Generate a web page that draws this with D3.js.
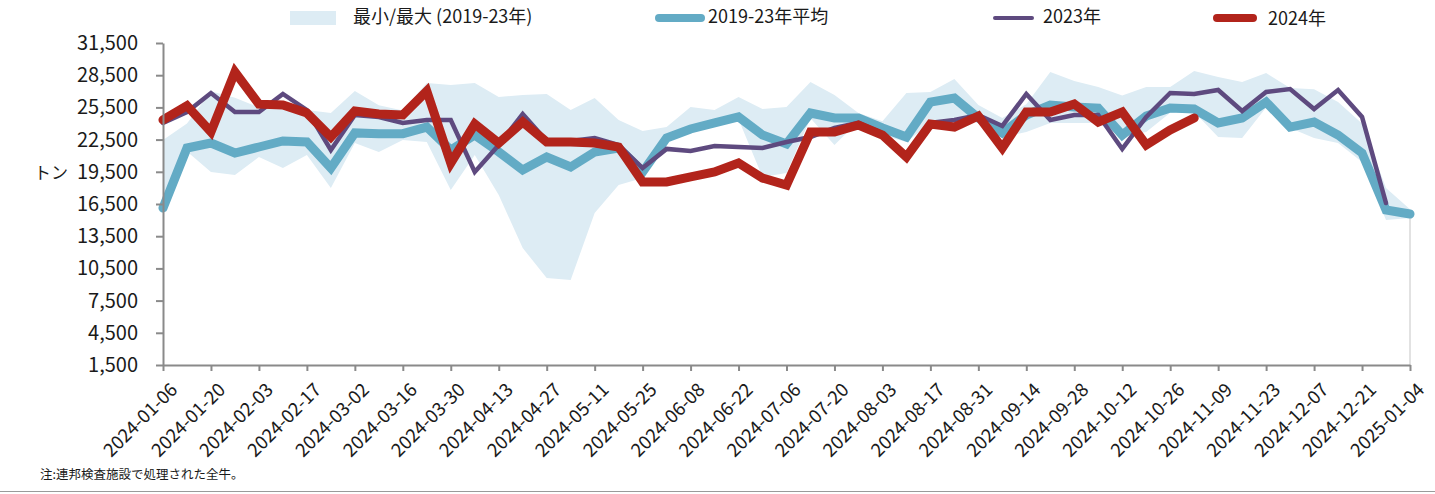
<!DOCTYPE html>
<html>
<head>
<meta charset="utf-8">
<script src="https://cdn.jsdelivr.net/npm/d3@7"></script>
<style>
  body { margin: 0; background: #fff; }
  svg text { font-family: "Noto Sans CJK JP", "Noto Sans", sans-serif; fill: #1a1a1a; }
</style>
</head>
<body>
<div id="viz"></div>
<script>
// weekly dates, 2024-01-06 .. 2025-01-04
var weeks = ["2024-01-06","2024-01-13","2024-01-20","2024-01-27","2024-02-03","2024-02-10","2024-02-17","2024-02-24",
    "2024-03-02","2024-03-09","2024-03-16","2024-03-23","2024-03-30","2024-04-06","2024-04-13","2024-04-20",
    "2024-04-27","2024-05-04","2024-05-11","2024-05-18","2024-05-25","2024-06-01","2024-06-08","2024-06-15",
    "2024-06-22","2024-06-29","2024-07-06","2024-07-13","2024-07-20","2024-07-27","2024-08-03","2024-08-10",
    "2024-08-17","2024-08-24","2024-08-31","2024-09-07","2024-09-14","2024-09-21","2024-09-28","2024-10-05",
    "2024-10-12","2024-10-19","2024-10-26","2024-11-02","2024-11-09","2024-11-16","2024-11-23","2024-11-30",
    "2024-12-07","2024-12-14","2024-12-21","2024-12-28","2025-01-04"];

var yTicks = [1500, 4500, 7500, 10500, 13500, 16500, 19500, 22500, 25500, 28500, 31500];

var bandMin = [16000,21400,19480,19200,20880,19850,21070,17990,22180,21350,22460,22280,17800,21070,17340,12400,
    9600,9420,15660,18270,18920,22400,23300,23800,24400,19020,19390,24500,22000,24200,22900,22280,
    24050,24100,24200,22740,23210,24050,24050,24050,22740,23210,25000,25070,22740,22650,25500,23580,
    22650,22180,20410,15010,15200];
var bandMax = [22460,24000,27000,26400,25500,25800,25260,24980,27030,25700,25200,27770,27590,27770,26470,26650,
    26750,25260,26370,24330,23300,23670,25540,25260,26470,25350,25540,27870,26650,24980,24200,26840,
    26940,28150,25720,24510,25800,28800,27960,27400,26600,27400,27400,28890,28330,27870,28700,27300,
    27200,26000,24000,18000,16000];
var avg1923 = [16130,21720,22180,21250,21810,22370,22280,19850,23120,23050,23050,23670,21530,22930,21350,19670,
    20880,19950,21350,21720,19480,22650,23490,24050,24610,22930,22100,24980,24510,24510,23580,22740,
    26000,26370,24510,23120,24790,25720,25540,25440,22930,24700,25440,25350,24050,24510,26000,23670,
    24140,22930,21250,15940,15570];
var y2023 = [24050,25070,26840,25070,25070,26750,25260,21530,24790,24610,24050,24330,24330,19480,22000,24890,
    22370,22370,22650,22000,19850,21630,21440,21900,21810,21720,22280,22740,23580,24050,23100,21100,
    24050,24330,24790,23770,26750,24330,24790,24790,21630,24610,26840,26750,27120,25160,26940,27210,
    25350,27120,24610,16590];
var y2024 = [24330,25660,23210,28800,25800,25720,24980,22740,25160,24890,24790,27030,20310,23950,22180,24140,
    22280,22280,22180,21810,18550,18550,19020,19480,20320,18920,18270,23210,23210,23860,22930,20880,
    23950,23670,24700,21720,25070,25070,25820,24140,25070,22000,23400,24510];

var legendLabels = ["最小/最大 (2019-23年)", "2019-23年平均", "2023年", "2024年"];
var yLabel = "トン";
var note = "注:連邦検査施設で処理された全牛。";

var colors = { band: "#ddecf4", avg: "#63abc5", y2023: "#5e4a7f", y2024: "#b2241b" };

var width = 1435, height = 494;
var margin = { top: 43, right: 25, bottom: 129, left: 163 };

var svg = d3.select("#viz").append("svg")
    .attr("width", width)
    .attr("height", height);

var x = d3.scalePoint()
    .domain(weeks)
    .range([margin.left, width - margin.right]);
var y = d3.scaleLinear()
    .domain([1500, 31500])
    .range([height - margin.bottom, margin.top]);

// band
var area = d3.area()
    .x(function (d, i) { return x(weeks[i]); })
    .y0(function (d, i) { return y(bandMin[i]); })
    .y1(function (d, i) { return y(bandMax[i]); });
svg.append("path")
    .datum(bandMin)
    .attr("d", area)
    .attr("fill", colors.band);

// light right border of the plot area
svg.append("line")
    .attr("x1", x(weeks[weeks.length - 1]))
    .attr("x2", x(weeks[weeks.length - 1]))
    .attr("y1", y(avg1923[avg1923.length - 1]))
    .attr("y2", y(1500))
    .attr("stroke", "#d9d9d9")
    .attr("stroke-width", 1.5);

var line = d3.line()
    .x(function (d, i) { return x(weeks[i]); })
    .y(function (d) { return y(d); });

svg.append("path").datum(avg1923)
    .attr("d", line)
    .attr("fill", "none")
    .attr("stroke", colors.avg)
    .attr("stroke-width", 9)
    .attr("stroke-linecap", "round");
svg.append("path").datum(y2023)
    .attr("d", line)
    .attr("fill", "none")
    .attr("stroke", colors.y2023)
    .attr("stroke-width", 4.5)
    .attr("stroke-linecap", "round");
svg.append("path").datum(y2024)
    .attr("d", line)
    .attr("fill", "none")
    .attr("stroke", colors.y2024)
    .attr("stroke-width", 9)
    .attr("stroke-linecap", "round");

// axes
var yAxis = svg.append("g")
    .attr("transform", "translate(" + margin.left + ",0)")
    .call(d3.axisLeft(y).tickValues(yTicks).tickFormat(d3.format(",")).tickSizeInner(7).tickSizeOuter(0).tickPadding(18));
yAxis.selectAll("text").style("font-size", "20px");

var xAxis = svg.append("g")
    .attr("transform", "translate(0," + y(1500) + ")")
    .call(d3.axisBottom(x).tickValues(weeks.filter(function (d, i) { return i % 2 == 0; })).tickSizeInner(6).tickSizeOuter(0));
xAxis.selectAll("text")
    .style("font-size", "18.5px")
    .attr("text-anchor", "end")
    .attr("dy", "0.35em")
    .attr("transform", "translate(4,15) rotate(-45)");

svg.selectAll(".domain, .tick line")
    .attr("stroke", "#8a8a8a")
    .attr("stroke-width", 2);

svg.append("text")
    .attr("x", 34)
    .attr("y", 174)
    .attr("dominant-baseline", "middle")
    .style("font-size", "17px")
    .text(yLabel);

// legend
var leg = svg.append("g");
leg.append("rect").attr("x", 290).attr("y", 11).attr("width", 46).attr("height", 14).attr("fill", colors.band);
leg.append("line").attr("x1", 659).attr("x2", 701).attr("y1", 18).attr("y2", 18)
    .attr("stroke", colors.avg).attr("stroke-width", 8).attr("stroke-linecap", "round");
leg.append("line").attr("x1", 995).attr("x2", 1032).attr("y1", 18).attr("y2", 18)
    .attr("stroke", colors.y2023).attr("stroke-width", 4).attr("stroke-linecap", "round");
leg.append("line").attr("x1", 1217).attr("x2", 1253).attr("y1", 18).attr("y2", 18)
    .attr("stroke", colors.y2024).attr("stroke-width", 8).attr("stroke-linecap", "round");

var legX = [353, 708, 1043, 1268];
var legY = [18, 18, 18, 20];
leg.selectAll("text.lab")
    .data(legendLabels)
    .enter().append("text")
    .attr("class", "lab")
    .attr("x", function (d, i) { return legX[i]; })
    .attr("y", function (d, i) { return legY[i]; })
    .attr("dominant-baseline", "middle")
    .style("font-size", "18px")
    .text(function (d) { return d; });

svg.append("text")
    .attr("x", 40)
    .attr("y", 476)
    .attr("dominant-baseline", "middle")
    .style("font-size", "12.5px")
    .text(note);

svg.append("line")
    .attr("x1", 0).attr("x2", width)
    .attr("y1", 491.5).attr("y2", 491.5)
    .attr("stroke", "#9a9a9a")
    .attr("stroke-width", 1);
</script>
</body>
</html>
